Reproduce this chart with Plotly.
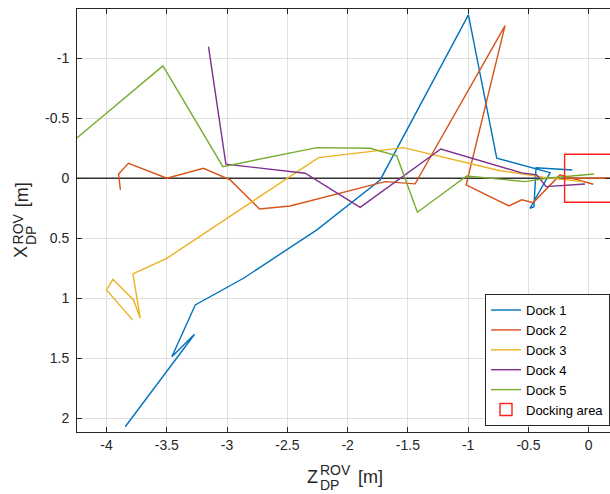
import plotly.graph_objects as go

# ---------------- data (Z_DP^ROV [m], X_DP^ROV [m]) ----------------
dock1_z = [-3.845, -3.63, -3.69, -3.27, -3.458, -3.264, -2.864, -2.255, -1.73, -0.998, -0.763, -0.32, -0.487, -0.454, -0.437, -0.136]
dock1_x = [2.07, 1.785, 1.865, 1.30, 1.487, 1.056, 0.833, 0.43, 0.014, -1.361, -0.167, -0.047, 0.25, 0.237, -0.088, -0.069]

dock2_z = [-3.885, -3.90, -3.818, -3.50, -3.196, -2.974, -2.731, -2.477, -1.689, -1.44, -0.694, -1.017, -0.662, -0.556, -0.46, -0.238, 0.038]
dock2_x = [0.098, -0.036, -0.125, 0.0, -0.083, 0.014, 0.256, 0.231, 0.028, 0.047, -1.272, 0.056, 0.231, 0.18, 0.203, -0.028, 0.05]

dock3_z = [-3.784, -4.0, -3.947, -3.776, -3.72, -3.781, -3.50, -2.242, -1.537, -0.984, -0.735, -0.487, -0.379, -0.047]
dock3_x = [1.18, 0.93, 0.842, 1.014, 1.167, 0.797, 0.667, -0.172, -0.255, -0.125, -0.063, -0.0275, -0.008, 0.028]

dock4_z = [-3.154, -3.01, -2.352, -1.896, -1.227, -0.556, -0.431, -0.354, -0.031]
dock4_x = [-1.097, -0.117, -0.042, 0.242, -0.244, -0.045, -0.028, 0.07, 0.0475]

dock5_z = [-4.30, -3.532, -3.035, -2.255, -1.813, -1.592, -1.421, -1.012, -0.528, -0.348, 0.044]
dock5_x = [-0.29, -0.936, -0.097, -0.255, -0.25, -0.186, 0.283, -0.019, 0.028, 0.0, -0.036]

area_z = [-0.2, 0.2]
area_x = [-0.2, 0.2]

reference_z = [-4.4, 0.3]
reference_x = [0.0, 0.0]
target_z = [-0.2, 0.3]
target_x = [0.0, 0.0]

series_names = ["Dock 1", "Dock 2", "Dock 3", "Dock 4", "Dock 5"]
colors = ["#0072BD", "#D95319", "#EDB120", "#7E2F8E", "#77AC30"]

x_ticks = [-4, -3.5, -3, -2.5, -2, -1.5, -1, -0.5, 0]
x_tick_text = ["-4", "-3.5", "-3", "-2.5", "-2", "-1.5", "-1", "-0.5", "0"]
y_ticks = [-1, -0.5, 0, 0.5, 1, 1.5, 2]
y_tick_text = ["-1", "-0.5", "0", "0.5", "1", "1.5", "2"]

FONT = "Liberation Sans, Arial, Helvetica, sans-serif"
TXT = "#262626"
LW = 1.4

fig = go.Figure()

fig.add_trace(go.Scatter(x=reference_z, y=reference_x, mode="lines",
                         line=dict(color="#333333", width=1.3), showlegend=False, hoverinfo="skip"))

series = [(dock1_z, dock1_x), (dock2_z, dock2_x), (dock3_z, dock3_x), (dock4_z, dock4_x), (dock5_z, dock5_x)]
for (zz, xx), name, c in zip(series, series_names, colors):
    fig.add_trace(go.Scatter(x=zz, y=xx, mode="lines", name=name,
                             line=dict(color=c, width=LW)))

fig.add_trace(go.Scatter(x=target_z, y=target_x, mode="lines",
                         line=dict(color=colors[1], width=LW), showlegend=False, hoverinfo="skip"))

fig.add_shape(type="rect", x0=area_z[0], x1=area_z[1], y0=area_x[0], y1=area_x[1],
              xref="x", yref="y", line=dict(color="#FF2020", width=LW),
              fillcolor="rgba(0,0,0,0)", showlegend=True, name="Docking area", layer="above")

L, T, W, H = 77, 9, 533, 423
FW, FH = 610, 494


def px(xp):
    return (xp - L) / W


def py(yp):
    return (T + H - yp) / H


annotations = []


def add_text(text, xp, yp, size, xanchor="center", angle=0):
    annotations.append(dict(text=text, x=px(xp), y=py(yp), xref="paper", yref="paper",
                            xanchor=xanchor, yanchor="middle", showarrow=False,
                            textangle=angle, borderpad=0,
                            font=dict(family=FONT, size=size, color=TXT)))


# x-axis title: Z_DP^ROV [m]
add_text("Z", 312.8, 477, 18)
add_text("ROV", 319, 469.7, 14, xanchor="left")
add_text("DP", 319, 485, 14, xanchor="left")
add_text("[m]", 357.3, 477, 18, xanchor="left")

# y-axis title (rotated): X_DP^ROV [m]
add_text("X", 21, 252, 18, angle=-90)
add_text("ROV", 18, 229.4, 14, angle=-90)
add_text("DP", 31, 236, 14, angle=-90)
add_text("[m]", 22, 195.3, 18, angle=-90)

axis_common = dict(showgrid=True, gridcolor="#e0e0e0", gridwidth=1,
                   zeroline=False, showline=True, linecolor="#262626", linewidth=1,
                   mirror="allticks", ticks="inside", ticklen=5, tickcolor="#262626",
                   tickfont=dict(family=FONT, size=14, color=TXT))

fig.update_layout(
    width=FW, height=FH,
    margin=dict(l=L, r=FW - L - W, t=T, b=FH - T - H, autoexpand=False),
    paper_bgcolor="white", plot_bgcolor="white",
    xaxis=dict(range=[-4.245, 0.1766], tickvals=x_ticks, ticktext=x_tick_text, **axis_common),
    yaxis=dict(range=[2.114, -1.410], tickvals=y_ticks, ticktext=y_tick_text,
               ticklabelstandoff=4, **axis_common),
    legend=dict(x=1, y=0.014, xanchor="right", yanchor="bottom",
                bgcolor="white", bordercolor="#262626", borderwidth=1,
                font=dict(family=FONT, size=13, color="black"),
                tracegroupgap=0, itemwidth=30, entrywidth=106),
    annotations=annotations,
    showlegend=True,
)

fig.write_html("out.html", config={"displayModeBar": False},
               post_script="document.body.style.margin='0';document.body.style.overflow='hidden';")
